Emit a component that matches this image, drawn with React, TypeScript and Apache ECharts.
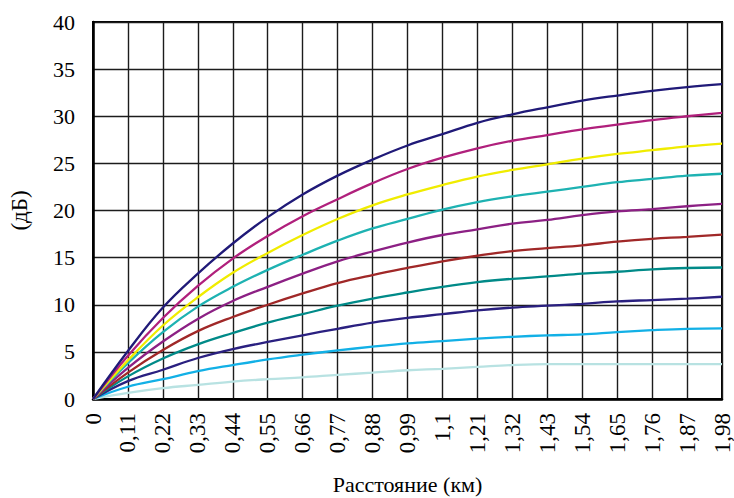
import React, { useEffect, useRef } from "react";
import * as echarts from "echarts";

const categories = ["0", "0,11", "0,22", "0,33", "0,44", "0,55", "0,66", "0,77", "0,88", "0,99", "1,1", "1,21", "1,32", "1,43", "1,54", "1,65", "1,76", "1,87", "1,98"];

const s1 = [0, 5.1, 9.7, 13.3, 16.5, 19.3, 21.7, 23.7, 25.4, 26.9, 28.1, 29.3, 30.2, 30.95, 31.65, 32.2, 32.7, 33.1, 33.4];
const s2 = [0, 4.6, 8.6, 12.0, 14.9, 17.3, 19.4, 21.2, 22.9, 24.4, 25.6, 26.6, 27.4, 28.0, 28.6, 29.1, 29.6, 30.0, 30.35];
const s3 = [0, 4.1, 7.8, 10.8, 13.4, 15.5, 17.4, 19.1, 20.55, 21.7, 22.7, 23.6, 24.3, 24.9, 25.5, 26.0, 26.4, 26.8, 27.1];
const s4 = [0, 3.8, 7.1, 9.8, 11.9, 13.7, 15.3, 16.8, 18.1, 19.1, 20.1, 20.9, 21.5, 22.0, 22.5, 23.0, 23.35, 23.7, 23.9];
const s5 = [0, 3.3, 6.1, 8.5, 10.4, 11.9, 13.3, 14.6, 15.65, 16.6, 17.4, 18.0, 18.6, 19.0, 19.5, 19.9, 20.15, 20.45, 20.7];
const s6 = [0, 2.8, 5.2, 7.2, 8.7, 10.0, 11.2, 12.3, 13.15, 13.9, 14.6, 15.2, 15.7, 16.0, 16.3, 16.7, 17.0, 17.2, 17.45];
const s7 = [0, 2.4, 4.3, 5.8, 7.0, 8.1, 9.0, 9.9, 10.65, 11.3, 11.9, 12.4, 12.75, 13.0, 13.3, 13.5, 13.75, 13.9, 13.95];
const s8 = [0, 1.9, 3.1, 4.35, 5.3, 6.05, 6.76, 7.45, 8.1, 8.6, 9.0, 9.4, 9.7, 9.9, 10.1, 10.35, 10.5, 10.65, 10.85];
const s9 = [0, 1.3, 2.1, 2.95, 3.6, 4.2, 4.7, 5.15, 5.55, 5.9, 6.15, 6.4, 6.6, 6.75, 6.85, 7.1, 7.3, 7.45, 7.5];
const s10 = [0, 0.65, 1.15, 1.5, 1.85, 2.1, 2.3, 2.56, 2.8, 3.05, 3.2, 3.4, 3.6, 3.7, 3.7, 3.7, 3.7, 3.7, 3.7];

const seriesData = [s1, s2, s3, s4, s5, s6, s7, s8, s9, s10];
const seriesColors = ["#201a78", "#b0207c", "#f0ec00", "#1eb2b2", "#8c2084", "#a02828", "#008a88", "#2a2080", "#12b0e6", "#b8e2e2"];
const seriesNames = ["1", "2", "3", "4", "5", "6", "7", "8", "9", "10"];

const yTicks = { min: 0, max: 40, interval: 5 };

const FONT = "Liberation Serif";

export default function App() {
  const ref = useRef<HTMLDivElement>(null);
  useEffect(() => {
    if (!ref.current) return;
    const chart = echarts.init(ref.current, null, { renderer: "svg" });
    chart.setOption({
      animation: false,
      backgroundColor: "#ffffff",
      textStyle: { fontFamily: FONT },
      grid: {
        left: 93,
        right: 12,
        top: 22,
        bottom: 99,
        containLabel: false,
        outerBoundsMode: "none",
        show: true,
        borderColor: "#000",
        borderWidth: 2,
        backgroundColor: "transparent",
      },
      xAxis: {
        type: "category",
        data: categories,
        boundaryGap: false,
        name: "Расстояние (км)",
        nameLocation: "middle",
        nameGap: 74,
        nameTextStyle: { fontFamily: FONT, fontSize: 22, color: "#000" },
        axisLine: { show: true, lineStyle: { color: "#000", width: 2.5 } },
        axisTick: { show: false },
        axisLabel: {
          rotate: 90,
          interval: 0,
          margin: 14,
          fontFamily: FONT,
          fontSize: 23,
          color: "#000",
        },
        splitLine: { show: true, lineStyle: { color: "#1c1c1c", width: 1.4 } },
      },
      yAxis: {
        type: "value",
        min: yTicks.min,
        max: yTicks.max,
        interval: yTicks.interval,
        name: "(дБ)",
        nameLocation: "middle",
        nameGap: 62,
        nameRotate: 90,
        nameTextStyle: { fontFamily: FONT, fontSize: 23, color: "#000" },
        axisLine: { show: true, lineStyle: { color: "#000", width: 2.5 } },
        axisTick: { show: false },
        axisLabel: { margin: 18, fontFamily: FONT, fontSize: 22, color: "#000" },
        splitLine: { show: true, lineStyle: { color: "#1c1c1c", width: 1.4 } },
      },
      series: seriesData.map((d, i) => ({
        type: "line",
        name: seriesNames[i],
        data: d,
        smooth: 0.4,
        showSymbol: false,
        symbol: "none",
        lineStyle: { color: seriesColors[i], width: 2.3 },
        itemStyle: { color: seriesColors[i] },
        z: 10 - i,
      })),
    });
    return () => chart.dispose();
  }, []);
  return <div ref={ref} style={{ width: 734, height: 498, position: "absolute", left: 0, top: 0 }} />;
}
